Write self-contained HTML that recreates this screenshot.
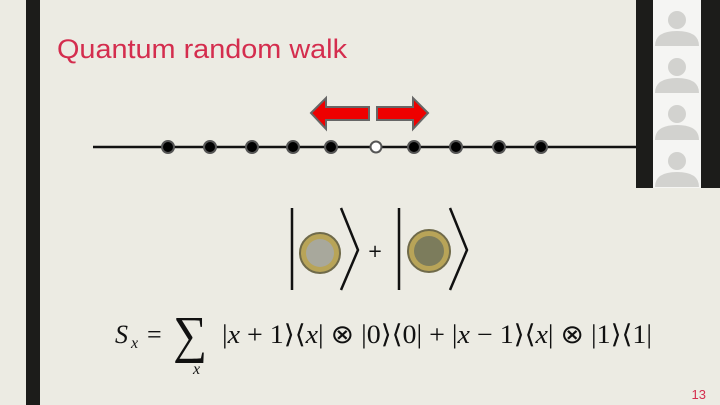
<!DOCTYPE html>
<html><head><meta charset="utf-8"><style>
html,body{margin:0;padding:0;width:720px;height:405px;overflow:hidden;background:#ecebe3}
</style></head><body>
<svg width="720" height="405" xmlns="http://www.w3.org/2000/svg" style="display:block">
<rect width="720" height="405" fill="#ecebe3"/>
<rect x="26" y="0" width="14" height="405" fill="#1c1c1a"/>
<text x="57" y="58" font-family="Liberation Sans, sans-serif" font-size="27" fill="#d42d4e" textLength="290" lengthAdjust="spacingAndGlyphs">Quantum random walk</text>
<!-- participant panel -->
<rect x="636" y="0" width="84" height="188" fill="#1c1c1a"/>
<rect x="653" y="0" width="48" height="188" fill="#f5f5f3"/>
<g fill="#d2d2cf">
<circle cx="677" cy="20" r="9"/><path d="M655 46 Q655 31 677 31 Q699 31 699 46 Z"/>
<circle cx="677" cy="67" r="9"/><path d="M655 93 Q655 78 677 78 Q699 78 699 93 Z"/>
<circle cx="677" cy="114" r="9"/><path d="M655 140 Q655 125 677 125 Q699 125 699 140 Z"/>
<circle cx="677" cy="161" r="9"/><path d="M655 187 Q655 172 677 172 Q699 172 699 187 Z"/>
</g>
<!-- line -->
<line x1="93" y1="147" x2="636" y2="147" stroke="#111" stroke-width="2.5"/>
<g fill="#000" stroke="#555" stroke-width="2">
<circle cx="168" cy="147" r="6"/><circle cx="210" cy="147" r="6"/><circle cx="252" cy="147" r="6"/>
<circle cx="293" cy="147" r="6"/><circle cx="331" cy="147" r="6"/>
<circle cx="414" cy="147" r="6"/><circle cx="456" cy="147" r="6"/><circle cx="499" cy="147" r="6"/><circle cx="541" cy="147" r="6"/>
</g>
<circle cx="376" cy="147" r="5.5" fill="#fff" stroke="#555" stroke-width="2"/>
<!-- arrows -->
<polygon points="311,113 326,98 326,107 369,107 369,120 326,120 326,129" fill="#ee0000" stroke="#666" stroke-width="2"/>
<polygon points="428,113 413,98 413,107 377,107 377,120 413,120 413,129" fill="#ee0000" stroke="#666" stroke-width="2"/>
<!-- kets -->
<g stroke="#111" stroke-width="2.5" fill="none">
<line x1="292" y1="208" x2="292" y2="290"/><polyline points="341,208 358,250 341,290"/>
<line x1="399" y1="208" x2="399" y2="290"/><polyline points="450,208 467,250 450,290"/>
</g>
<circle cx="320" cy="253" r="20" fill="#b8a458" stroke="#6f6a4a" stroke-width="2"/>
<circle cx="320" cy="253" r="14" fill="#a8a89c"/>
<circle cx="429" cy="251" r="21" fill="#b8a458" stroke="#6f6a4a" stroke-width="2"/>
<circle cx="429" cy="251" r="15" fill="#7c7c5c"/>
<text x="375" y="257" text-anchor="middle" font-family="DejaVu Sans, sans-serif" font-size="18" fill="#111">+</text>
<!-- formula -->
<g font-family="Liberation Serif, serif" fill="#111">
<text x="115" y="343" font-size="26" font-style="italic">S</text>
<text x="131" y="348" font-size="16" font-style="italic">x</text>
<text x="147" y="343" font-size="26">=</text>
<text x="173" y="352" font-size="52" textLength="34" lengthAdjust="spacingAndGlyphs">∑</text>
<text x="193" y="374" font-size="16" font-style="italic">x</text>
<text x="222" y="343" font-size="26" textLength="430" lengthAdjust="spacingAndGlyphs">|<tspan font-style="italic">x</tspan> + 1⟩⟨<tspan font-style="italic">x</tspan>| ⊗ |0⟩⟨0| + |<tspan font-style="italic">x</tspan> − 1⟩⟨<tspan font-style="italic">x</tspan>| ⊗ |1⟩⟨1|</text>
</g>
<text x="706" y="399" text-anchor="end" font-family="Liberation Sans, sans-serif" font-size="13" fill="#d42d4e">13</text>
</svg>
</body></html>
